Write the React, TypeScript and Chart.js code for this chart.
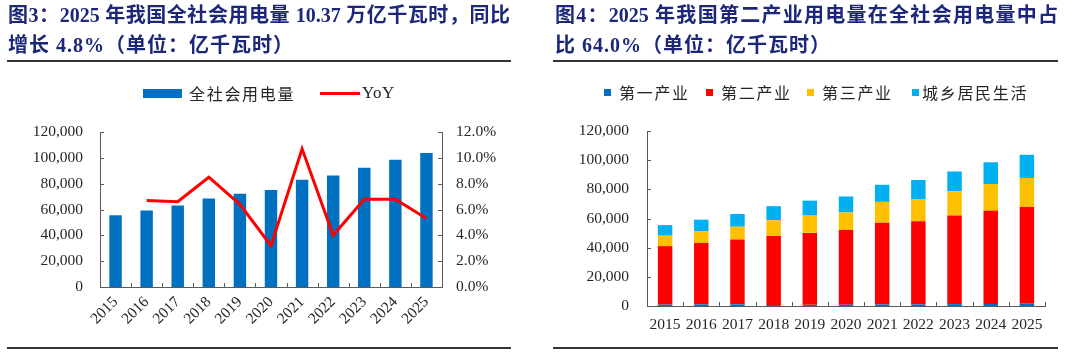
import React, { useEffect, useRef } from "react";
import { Chart, registerables } from "chart.js";
Chart.register(...registerables);

const years = ["2015", "2016", "2017", "2018", "2019", "2020", "2021", "2022", "2023", "2024", "2025"];
const primary = [1020, 1075, 1155, 728, 780, 859, 1023, 1146, 1278, 1357, 1494];
const secondary = [40046, 42108, 44413, 47235, 49362, 51215, 56131, 57001, 60745, 63874, 66366];
const tertiary = [7158, 7961, 8814, 10801, 11863, 12087, 14231, 14859, 16694, 18348, 19942];
const residential = [7276, 8054, 8695, 9685, 10250, 10949, 11743, 13366, 13524, 14942, 15880];
const totalUse = [55500, 59198, 63077, 68449, 72255, 75110, 83128, 86372, 92241, 98521, 103682];
const yoy: (number | null)[] = [null, 6.7, 6.6, 8.5, 6.4, 3.2, 10.7, 4.0, 6.8, 6.8, 5.3];

const SERIF = "'Liberation Serif', 'Times New Roman', serif";
const CJK = "'Liberation Serif', 'Noto Sans CJK SC', serif";
const AXIS = "#595959";
const TXT = "#262626";

const insideTicks = {
  id: "insideTicks",
  afterDraw(chart: any) {
    const ctx = chart.ctx;
    const len = 4;
    ctx.save();
    ctx.strokeStyle = AXIS;
    ctx.lineWidth = 1;
    const sc = chart.scales;
    ["y", "y1"].forEach((id) => {
      const s = sc[id];
      if (!s) return;
      s.ticks.forEach((t: any) => {
        const py = Math.round(s.getPixelForValue(t.value)) + 0.5;
        ctx.beginPath();
        if (s.position === "left") {
          ctx.moveTo(s.right, py);
          ctx.lineTo(s.right + len, py);
        } else {
          ctx.moveTo(s.left - len, py);
          ctx.lineTo(s.left, py);
        }
        ctx.stroke();
      });
    });
    const x = sc.x;
    const n = x.ticks.length;
    for (let i = 0; i <= n; i++) {
      const px = Math.round(x.getPixelForValue(i - 0.5)) + 0.5;
      ctx.beginPath();
      ctx.moveTo(px, x.top);
      ctx.lineTo(px, x.top - len);
      ctx.stroke();
    }
    ctx.restore();
  },
};

function LeftChart() {
  const ref = useRef<HTMLCanvasElement>(null);
  useEffect(() => {
    const chart = new Chart(ref.current!, {
      type: "bar",
      data: {
        labels: years,
        datasets: [
          {
            type: "line",
            label: "YoY",
            data: yoy,
            yAxisID: "y1",
            borderColor: "#FF0000",
            backgroundColor: "#FF0000",
            borderWidth: 3,
            pointRadius: 0,
            tension: 0,
            order: 0,
          } as any,
          {
            type: "bar",
            label: "全社会用电量",
            data: totalUse,
            yAxisID: "y",
            backgroundColor: "#0070C0",
            barPercentage: 0.4,
            categoryPercentage: 1,
            order: 1,
          },
        ],
      },
      options: {
        animation: false,
        responsive: false,
        maintainAspectRatio: false,
        layout: { padding: { top: 132, left: 0, right: 0, bottom: 0 } },
        plugins: { legend: { display: false }, tooltip: { enabled: false } },
        scales: {
          x: {
            grid: { display: false, drawTicks: false },
            border: { display: true, color: AXIS, width: 1 },
            ticks: {
              minRotation: 45,
              maxRotation: 45,
              padding: 6,
              color: TXT,
              font: { family: SERIF, size: 15.5 },
            },
            afterFit: (s: any) => {
              s.height = 353 - 287;
            },
          },
          y: {
            position: "left",
            min: 0,
            max: 120000,
            grid: { display: false, drawTicks: false },
            border: { display: true, color: AXIS, width: 1 },
            ticks: {
              stepSize: 20000,
              padding: 17,
              color: TXT,
              font: { family: SERIF, size: 15.5 },
              callback: (v: any) => Number(v).toLocaleString("en-US"),
            },
            afterFit: (s: any) => {
              s.width = 100;
            },
          },
          y1: {
            position: "right",
            min: 0,
            max: 12,
            grid: { display: false, drawTicks: false },
            border: { display: true, color: AXIS, width: 1 },
            ticks: {
              stepSize: 2,
              padding: 14,
              color: TXT,
              font: { family: SERIF, size: 15.5 },
              callback: (v: any) => Number(v).toFixed(1) + "%",
            },
            afterFit: (s: any) => {
              s.width = 98;
            },
          },
        },
      },
      plugins: [insideTicks],
    });
    return () => chart.destroy();
  }, []);
  return (
    <canvas
      ref={ref}
      width={540}
      height={353}
      style={{ position: "absolute", left: 0, top: 0, width: 540, height: 353 }}
    />
  );
}

function RightChart() {
  const ref = useRef<HTMLCanvasElement>(null);
  useEffect(() => {
    const mk = (label: string, data: number[], color: string) => ({
      label,
      data,
      backgroundColor: color,
      barPercentage: 0.4,
      categoryPercentage: 1,
    });
    const chart = new Chart(ref.current!, {
      type: "bar",
      data: {
        labels: years,
        datasets: [
          mk("第一产业", primary, "#0070C0"),
          mk("第二产业", secondary, "#FF0000"),
          mk("第三产业", tertiary, "#FFC000"),
          mk("城乡居民生活", residential, "#00B0F0"),
        ],
      },
      options: {
        animation: false,
        responsive: false,
        maintainAspectRatio: false,
        layout: { padding: { top: 131, left: 0, right: 35, bottom: 0 } },
        plugins: { legend: { display: false }, tooltip: { enabled: false } },
        scales: {
          x: {
            stacked: true,
            grid: { display: false, drawTicks: false },
            border: { display: true, color: AXIS, width: 1 },
            ticks: {
              maxRotation: 0,
              minRotation: 0,
              padding: 10,
              color: TXT,
              font: { family: SERIF, size: 15.5 },
            },
            afterFit: (s: any) => {
              s.height = 353 - 306;
            },
          },
          y: {
            stacked: true,
            min: 0,
            max: 120000,
            grid: { display: false, drawTicks: false },
            border: { display: true, color: AXIS, width: 1 },
            ticks: {
              stepSize: 20000,
              padding: 18,
              color: TXT,
              font: { family: SERIF, size: 15.5 },
              callback: (v: any) => Number(v).toLocaleString("en-US"),
            },
            afterFit: (s: any) => {
              s.width = 107;
            },
          },
        },
      },
      plugins: [insideTicks],
    });
    return () => chart.destroy();
  }, []);
  return (
    <canvas
      ref={ref}
      width={540}
      height={353}
      style={{ position: "absolute", left: 540, top: 0, width: 540, height: 353 }}
    />
  );
}

const titleColor = "#1c2779";
const titleBase: React.CSSProperties = {
  position: "absolute",
  fontFamily: CJK,
  fontWeight: "bold",
  fontSize: 20,
  color: titleColor,
  whiteSpace: "nowrap",
  lineHeight: "24px",
};

const legText: React.CSSProperties = {
  position: "absolute",
  fontFamily: "'Noto Sans CJK SC', serif",
  fontSize: 16,
  lineHeight: "20px",
  letterSpacing: 1.7,
  color: TXT,
  whiteSpace: "nowrap",
};

const box = (left: number, top: number, w: number, h: number, c: string): React.CSSProperties => ({
  position: "absolute",
  left,
  top,
  width: w,
  height: h,
  background: c,
});

export default function App() {
  useEffect(() => {
    document.body.style.margin = "0";
  }, []);
  const rightLegend: [string, string, number, number][] = [
    ["第一产业", "#0070C0", 604, 619],
    ["第二产业", "#FF0000", 706, 721],
    ["第三产业", "#FFC000", 807, 822],
    ["城乡居民生活", "#00B0F0", 912, 922],
  ];
  return (
    <div style={{ position: "relative", width: 1080, height: 353, background: "#fff", overflow: "hidden" }}>
      <LeftChart />
      <RightChart />
      {/* left title */}
      <div style={{ ...titleBase, left: 8, top: 3, width: 502, textAlign: "justify", textAlignLast: "justify" }}>
        图3：2025 年我国全社会用电量 10.37 万亿千瓦时，同比
      </div>
      <div style={{ ...titleBase, left: 8, top: 33, letterSpacing: 1 }}>增长 4.8%（单位：亿千瓦时）</div>
      <div style={box(7, 60, 504, 2, "#333")} />
      <div style={box(7, 347, 504, 2, "#333")} />
      {/* right title */}
      <div style={{ ...titleBase, left: 555, top: 3, width: 503, textAlign: "justify", textAlignLast: "justify" }}>
        图4：2025 年我国第二产业用电量在全社会用电量中占
      </div>
      <div style={{ ...titleBase, left: 555, top: 33, letterSpacing: 1 }}>比 64.0%（单位：亿千瓦时）</div>
      <div style={box(553, 60, 505, 2, "#333")} />
      <div style={box(553, 347, 505, 2, "#333")} />
      {/* left legend */}
      <div style={box(143, 89, 39, 9, "#0070C0")} />
      <div style={{ ...legText, left: 189, top: 83 }}>全社会用电量</div>
      <div style={box(320, 92, 40, 3, "#FF0000")} />
      <div style={{ ...legText, left: 362, top: 83, fontFamily: SERIF, fontSize: 17, letterSpacing: 0.5 }}>YoY</div>
      {/* right legend */}
      {rightLegend.map(([t, c, mx, tx]) => (
        <React.Fragment key={t}>
          <div style={box(mx, 89, 7, 7, c)} />
          <div style={{ ...legText, left: tx, top: 82 }}>{t}</div>
        </React.Fragment>
      ))}
    </div>
  );
}
